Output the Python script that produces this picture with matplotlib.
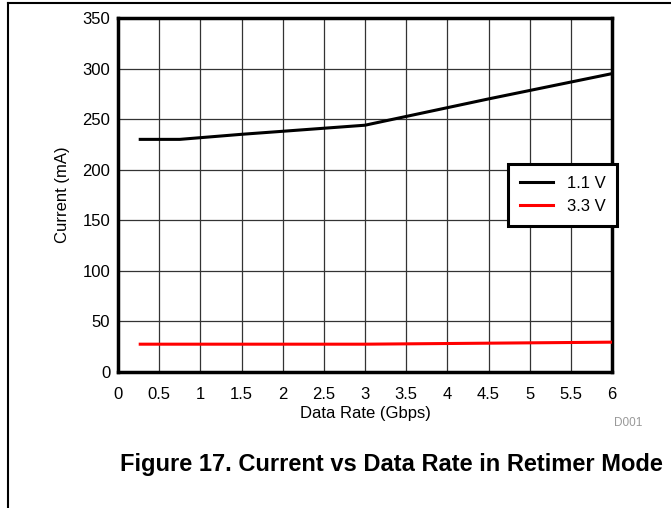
import matplotlib.pyplot as plt
from matplotlib.lines import Line2D

plt.rcParams['font.family'] = ['Liberation Sans', 'DejaVu Sans']

# data rate (Gbps)
rate = [0.27, 0.75, 1.5, 3.0, 4.5, 6.0]
# current (mA)
i_1v1 = [230, 230, 235, 244, 270, 295]
i_3v3 = [27.5, 27.5, 27.5, 27.5, 28.5, 29.5]

x_ticks = [0, 0.5, 1, 1.5, 2, 2.5, 3, 3.5, 4, 4.5, 5, 5.5, 6]
x_labels = ['0', '0.5', '1', '1.5', '2', '2.5', '3', '3.5', '4', '4.5', '5', '5.5', '6']
y_ticks = [0, 50, 100, 150, 200, 250, 300, 350]

W, H = 671, 508
fig = plt.figure(figsize=(W / 100, H / 100), dpi=100)
ax = fig.add_axes([118 / W, 1 - 372 / H, (612 - 118) / W, (372 - 18) / H])

ax.plot(rate, i_1v1, color='black', lw=2.2, label='1.1 V', zorder=3)
ax.plot(rate, i_3v3, color='#ff0000', lw=2.2, label='3.3 V', zorder=3)

ax.set_xlim(0, 6)
ax.set_ylim(0, 350)
ax.set_xticks(x_ticks)
ax.set_xticklabels(x_labels)
ax.set_yticks(y_ticks)
ax.tick_params(length=0, labelsize=12, colors='black')
ax.tick_params(axis='x', pad=11)
ax.tick_params(axis='y', pad=5.5)
ax.grid(True, color='#333333', lw=0.9)
ax.set_axisbelow(True)
for s in ax.spines.values():
    s.set_linewidth(2.5)
    s.set_color('black')

ax.set_xlabel('Data Rate (Gbps)', fontsize=12, labelpad=3)
ax.set_ylabel('Current (mA)', fontsize=12, labelpad=9)

leg = ax.legend(loc='upper right', bbox_to_anchor=(1.01, 0.588), borderaxespad=0,
                fancybox=False, framealpha=1, edgecolor='black', fontsize=12,
                handlelength=2.0, handletextpad=0.8, borderpad=0.7, labelspacing=0.5)
leg.get_frame().set_linewidth(2.2)
leg.set_zorder(5)

fig.text(628 / W, 1 - 423 / H, 'D001', fontsize=8.5, color='#999999', ha='center', va='center')
fig.text(391 / W, 1 - 464 / H, 'Figure 17. Current vs Data Rate in Retimer Mode',
         fontsize=17, fontweight='bold', ha='center', va='center')

# page border
fig.add_artist(Line2D([8 / W, 8 / W], [0, 1 - 3 / H], color='black', lw=1.5, transform=fig.transFigure))
fig.add_artist(Line2D([8 / W, 670 / W], [1 - 3 / H, 1 - 3 / H], color='black', lw=1.5, transform=fig.transFigure))

fig.savefig('out.png', dpi=100)
